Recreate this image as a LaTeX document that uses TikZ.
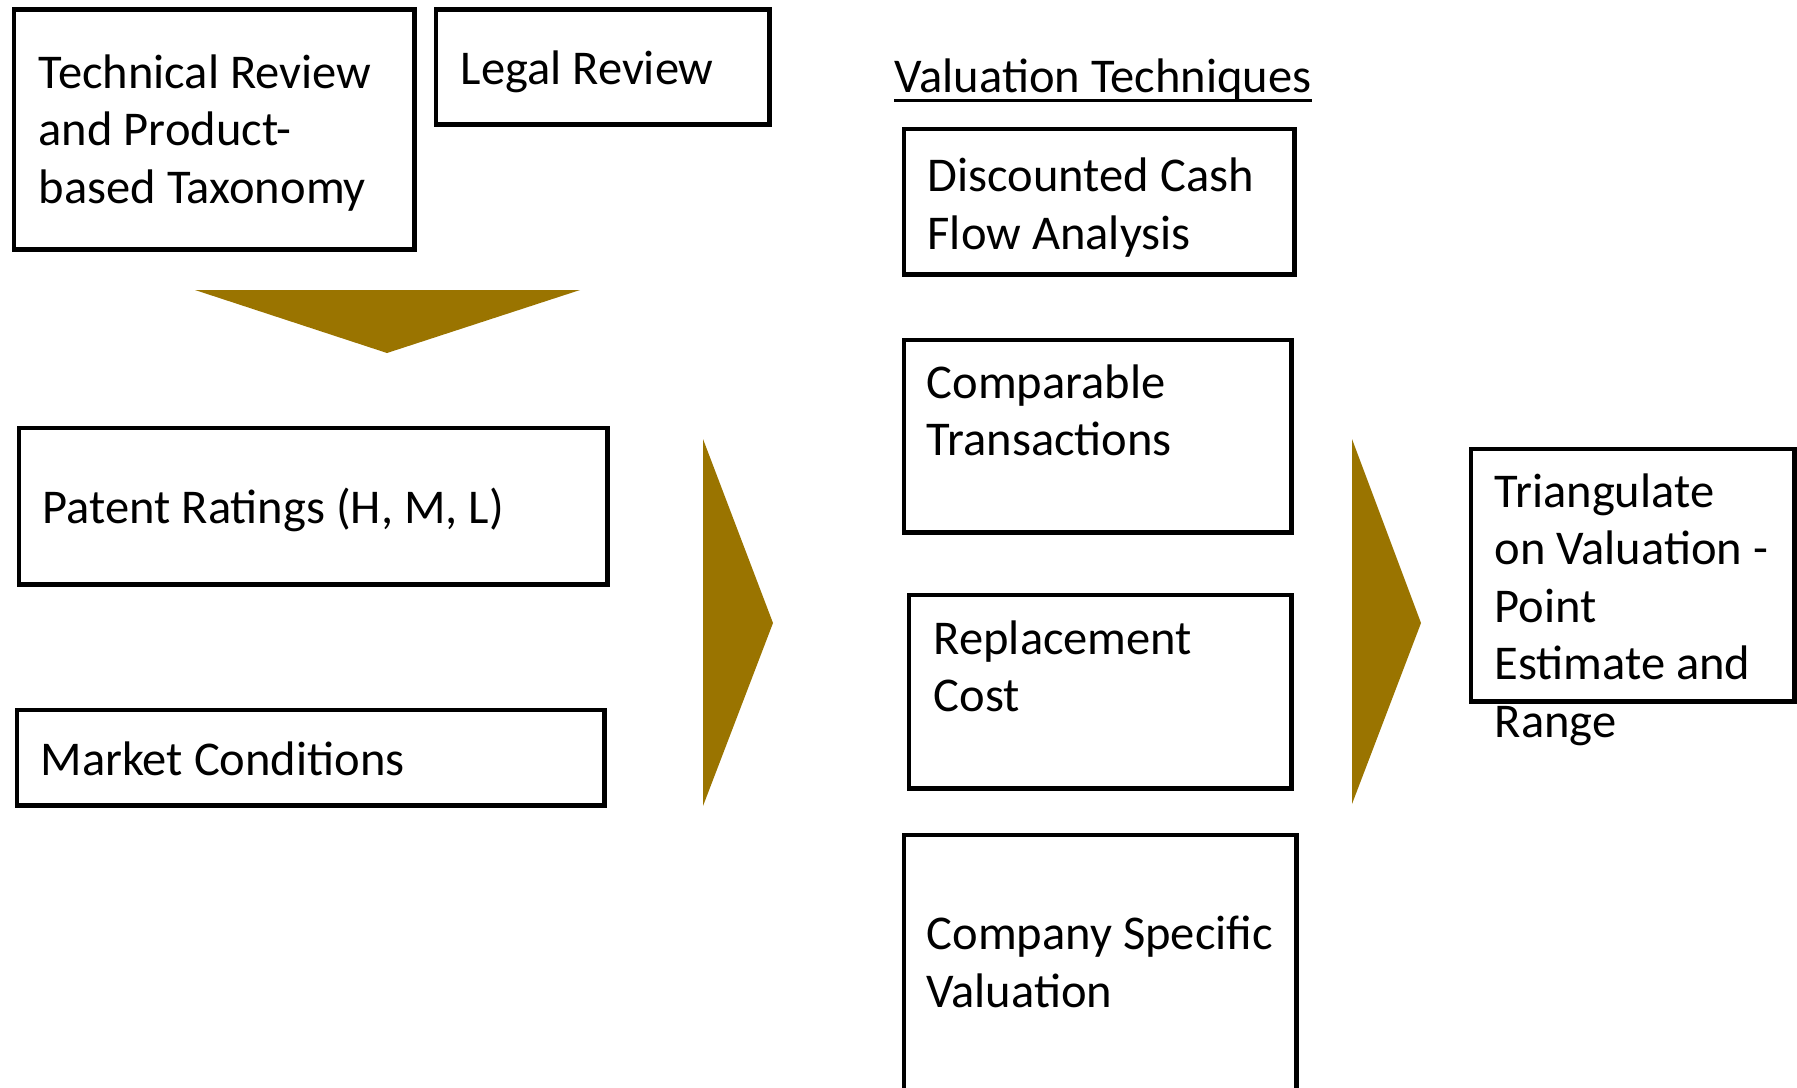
\documentclass[tikz,border=0pt]{standalone}
\usepackage{fontspec}
\setmainfont{Carlito}
\usetikzlibrary{positioning}
\definecolor{Ochre}{HTML}{9A7400}

\begin{document}
\begin{tikzpicture}[x=0.01cm,y=-0.01cm,
  framebox/.style={rectangle,draw=black,line width=1.4pt,inner sep=0pt,outer sep=0pt,anchor=north west},
  boxtext/.style={anchor=base west,align=left,inner sep=0pt,font=\fontsize{13.8}{16.35}\selectfont},
  pointer/.style={fill=Ochre,draw=none}]
  \useasboundingbox (0,0) rectangle (1797,1087);

  % inputs
  \node[framebox,minimum width=4.005cm,minimum height=2.395cm] (tech) at (14,9.5) {};
  \node[framebox,minimum width=3.335cm,minimum height=1.15cm] (legal) at (436,9.5) {};
  \node[framebox,minimum width=5.885cm,minimum height=1.56cm] (patent) at (19,428) {};
  \node[framebox,minimum width=5.875cm,minimum height=0.955cm] (market) at (17,710) {};

  % text anchored on its last line
  \node[boxtext] (techtxt) at (38,203) {Technical Review\\and Product-\\based Taxonomy};
  \node[boxtext] (legaltxt) at (460,84) {Legal Review};
  \node[boxtext] (patenttxt) at (42,523) {Patent Ratings (H, M, L)};
  \node[boxtext] (markettxt) at (40,775) {Market Conditions};

  % valuation techniques
  \node[boxtext] (vtitle) at (894,92) {Valuation Techniques};
  \draw[line width=0.9pt] (vtitle.south west) -- (vtitle.south east);

  \node[framebox,minimum width=3.905cm,minimum height=1.455cm] (dcf) at (904,129) {};
  \node[framebox,minimum width=3.875cm,minimum height=1.92cm] (comp) at (904,340) {};
  \node[framebox,minimum width=3.825cm,minimum height=1.93cm] (repl) at (909,595) {};
  \node[framebox,minimum width=3.925cm,minimum height=2.60cm] (cospec) at (904,835) {};

  \node[boxtext] (dcftxt) at (927,249) {Discounted Cash\\Flow Analysis};
  \node[boxtext] (comptxt) at (926,455.5) {Comparable\\Transactions};
  \node[boxtext] (repltxt) at (933,711.5) {Replacement\\Cost};
  \node[boxtext] (cospectxt) at (926,1007) {Company Specific\\Valuation};

  % result
  \node[framebox,minimum width=3.235cm,minimum height=2.52cm] (tri) at (1471,449) {};
  \node[boxtext] (tritxt) at (1494,737) {Triangulate\\on Valuation -\\Point\\Estimate and\\Range};

  % arrows
  \fill[pointer] (195,290) -- (580,290) -- (387,353) -- cycle;
  \fill[pointer] (703,439) -- (773,623) -- (703,806) -- cycle;
  \fill[pointer] (1352,439) -- (1421,623) -- (1352,804) -- cycle;
\end{tikzpicture}
\end{document}
